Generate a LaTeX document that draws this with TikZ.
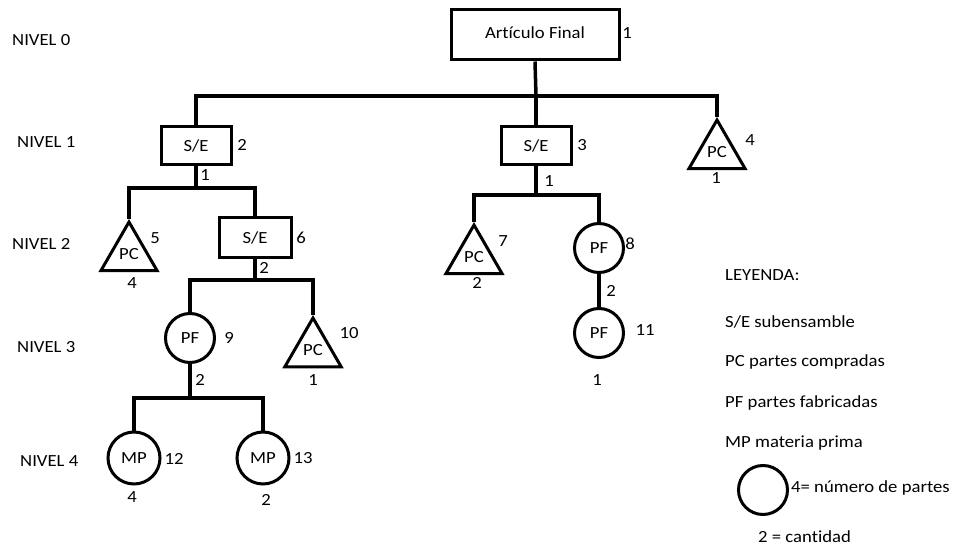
\documentclass[tikz,border=0pt]{standalone}
\usepackage{fontspec}
\setmainfont{Carlito}[Ligatures=NoCommon, FakeStretch=1.1]
\usetikzlibrary{shapes.geometric}
\begin{document}
\begin{tikzpicture}[x=1pt,y=-1pt,
  font=\fontsize{17}{20}\selectfont,
  wire/.style={line width=3.5pt},
  box/.style={draw, line width=3pt, rectangle, minimum width=70pt, minimum height=38pt, inner sep=0pt},
  bigbox/.style={box, minimum width=168pt, minimum height=50pt},
  part/.style={draw, line width=3pt, circle, minimum size=49pt, inner sep=0pt},
  buy/.style={draw, line width=3pt, regular polygon, regular polygon sides=3,
    minimum size=65pt, inner sep=0pt, anchor=corner 1},
  qty/.style={inner sep=0pt},
  tag/.style={inner sep=0pt, anchor=west},
]
\useasboundingbox (0,0) rectangle (959,548);

% level captions
\node[tag] (n0) at (12,40)  {NIVEL 0};
\node[tag] (n1) at (17,142) {NIVEL 1};
\node[tag] (n2) at (12,244) {NIVEL 2};
\node[tag] (n3) at (17,347) {NIVEL 3};
\node[tag] (n4) at (20,461) {NIVEL 4};

% level 0
\node[bigbox] (af) at (535,35) {\raisebox{4pt}{Artículo Final}};
\node[qty] (qaf) at (627,33) {1};
\coordinate (j0) at (536,96);
\draw[wire] (af.south) -- (j0);

% level 1
\node[box] (se2) at (196,146) {S/E};
\node[qty] (qse2) at (242,145) {2};
\node[box] (se3) at (536,146) {S/E};
\node[qty] (qse3) at (582,145) {3};
\node[buy] (pc4) at (717,117) {PC};
\node[qty] (qpc4) at (750,140) {4};
\node[qty] (cpc4) at (716,178) {1};
\draw[wire] (se2.north) |- (j0);
\draw[wire] (se3.north) -- (j0);
\draw[wire] (pc4.corner 1) |- (j0);

% level 2, left branch
\coordinate (j1) at (196,188);
\draw[wire] (se2.south) -- (j1);
\node[qty] (cse2) at (205,175) {1};
\node[buy] (pc5) at (129,219) {PC};
\node[qty] (qpc5) at (155,238) {5};
\node[qty] (cpc5) at (132,283) {4};
\node[box, minimum width=72pt, minimum height=40pt] (se6) at (255,238) {S/E};
\node[qty] (qse6) at (301,238) {6};
\draw[wire] (pc5.corner 1) |- (j1);
\draw[wire] (se6.north) |- (j1);

% level 2, middle branch
\coordinate (j4) at (536,195);
\draw[wire] (se3.south) -- (j4);
\node[qty] (cse3) at (549,181) {1};
\node[buy] (pc7) at (474,222) {PC};
\node[qty] (qpc7) at (503,241) {7};
\node[qty] (cpc7) at (477,283) {2};
\node[part] (pf8) at (599,248) {PF};
\node[qty] (qpf8) at (630,244) {8};
\draw[wire] (pc7.corner 1) |- (j4);
\draw[wire] (pf8.north) |- (j4);

% level 3
\coordinate (j2) at (255,280);
\draw[wire] (se6.south) -- (j2);
\node[qty] (cse6) at (264,268) {2};
\node[part] (pf9) at (190,338) {PF};
\node[qty] (qpf9) at (229,338) {9};
\node[buy] (pc10) at (313,315) {PC};
\node[qty] (qpc10) at (349,333) {10};
\node[qty] (cpc10) at (313,380) {1};
\draw[wire] (pf9.north) |- (j2);
\draw[wire] (pc10.corner 1) |- (j2);

\node[part] (pf11) at (599,333) {PF};
\node[qty] (qpf11) at (645,330) {11};
\node[qty] (cpf11) at (597,380) {1};
\draw[wire] (pf8.south) -- (pf11.north);
\node[qty] (cpf8) at (611,291) {2};

% level 4
\coordinate (j3) at (190,398);
\draw[wire] (pf9.south) -- (j3);
\node[qty] (cpf9) at (200,380) {2};
\node[part, minimum size=52pt] (mp12) at (134,458) {MP};
\node[qty] (qmp12) at (174,459) {12};
\node[qty] (cmp12) at (132,497) {4};
\node[part, minimum size=52pt] (mp13) at (263,458) {MP};
\node[qty] (qmp13) at (303,458) {13};
\node[qty] (cmp13) at (266,500) {2};
\draw[wire] (mp12.north) |- (j3);
\draw[wire] (mp13.north) |- (j3);

% legend
\node[tag] (l0) at (725,275) {LEYENDA:};
\node[tag] (l1) at (725,322) {S/E subensamble};
\node[tag] (l2) at (725,362) {PC partes compradas};
\node[tag] (l3) at (725,403) {PF partes fabricadas};
\node[tag] (l4) at (725,443) {MP materia prima};
\node[part, minimum size=49pt] (lc) at (763,490) {};
\node[tag] (l5) at (791,488) {4= número de partes};
\node[tag] (l6) at (758,537) {2 = cantidad};
\end{tikzpicture}
\end{document}
